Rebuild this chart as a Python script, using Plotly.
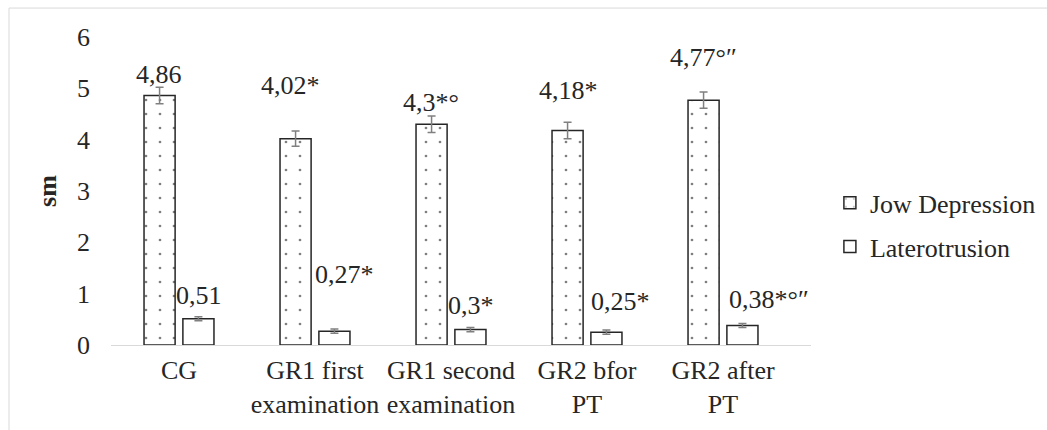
import plotly.graph_objects as go

categories = ["CG", "GR1 first<br>examination", "GR1 second<br>examination", "GR2 bfor<br>PT", "GR2 after<br>PT"]
jow_values = [4.86, 4.02, 4.30, 4.18, 4.77]
jow_errors = [0.16, 0.15, 0.16, 0.16, 0.16]
jow_labels = ["4,86", "4,02*", "4,3*°", "4,18*", "4,77°″"]
lat_values = [0.51, 0.27, 0.30, 0.25, 0.38]
lat_errors = [0.04, 0.04, 0.04, 0.04, 0.04]
lat_labels = ["0,51", "0,27*", "0,3*", "0,25*", "0,38*°″"]
y_ticks = [0, 1, 2, 3, 4, 5, 6]

# label pixel offsets (layout only)
jow_dx = [0, -5, 0, 1, 0]
jow_dy = [21, 53, 22, 40, 43]
lat_dx = [0, 9, 0, 13, 26]
lat_dy = [23, 57, 24, 31, 26]

FONT = "Liberation Serif, Times New Roman, Times, serif"
FS = 26
TXT = "#262626"

fig = go.Figure()
fig.add_trace(go.Bar(
    name="Jow Depression", x=categories, y=jow_values, legendgroup="a",
    marker=dict(color="white", line=dict(color="#262626", width=1.5),
                pattern=dict(shape=".", fgcolor="black", bgcolor="white", size=14, solidity=0.03)),
    error_y=dict(type="data", array=jow_errors, color="#808080", thickness=1.5, width=4),
))
fig.add_trace(go.Bar(
    name="Laterotrusion", x=categories, y=lat_values, legendgroup="b",
    marker=dict(color="white", line=dict(color="#262626", width=1.5)),
    error_y=dict(type="data", array=lat_errors, color="#808080", thickness=1.5, width=4),
))

annotations = []
for c, v, t, dx, dy in zip(categories, jow_values, jow_labels, jow_dx, jow_dy):
    annotations.append(dict(x=c, y=v, text=t, showarrow=False, xshift=-20 + dx, yshift=dy,
                            xanchor="center", yanchor="middle", font=dict(family=FONT, size=FS, color=TXT)))
for c, v, t, dx, dy in zip(categories, lat_values, lat_labels, lat_dx, lat_dy):
    annotations.append(dict(x=c, y=v, text=t, showarrow=False, xshift=20 + dx, yshift=dy,
                            xanchor="center", yanchor="middle", font=dict(family=FONT, size=FS, color=TXT)))

fig.update_layout(
    width=1047, height=430,
    margin=dict(l=111, r=236, t=37, b=85, autoexpand=False),
    paper_bgcolor="white", plot_bgcolor="white",
    font=dict(family=FONT, size=FS, color=TXT),
    barmode="group", bargap=0.4286, bargroupgap=0.2,
    showlegend=True,
    legend=dict(x=1.027, y=0.39, xanchor="left", yanchor="middle",
                font=dict(family=FONT, size=FS, color=TXT), tracegroupgap=7,
                bgcolor="rgba(0,0,0,0)", itemwidth=30),
    annotations=annotations,
    shapes=[dict(type="rect", xref="paper", yref="paper", x0=-0.1457, x1=1.5, y0=-0.5, y1=1.094,
                 line=dict(color="#d9d9d9", width=1))],
    xaxis=dict(showline=True, linecolor="#d9d9d9", linewidth=1, ticks="", showgrid=False,
               ticklabelstandoff=2,
               tickfont=dict(family=FONT, size=FS, color=TXT)),
    yaxis=dict(range=[0, 6], tickvals=y_ticks, showgrid=False, zeroline=False, showline=False,
               ticks="", ticklabelstandoff=20,
               tickfont=dict(family=FONT, size=FS, color=TXT),
               title=dict(text="<b>sm</b>", font=dict(family=FONT, size=FS, color=TXT), standoff=12)),
)

fig.write_html("out.html", config={"displayModeBar": False},
               post_script="document.body.style.margin='0';document.body.style.overflow='hidden';")
